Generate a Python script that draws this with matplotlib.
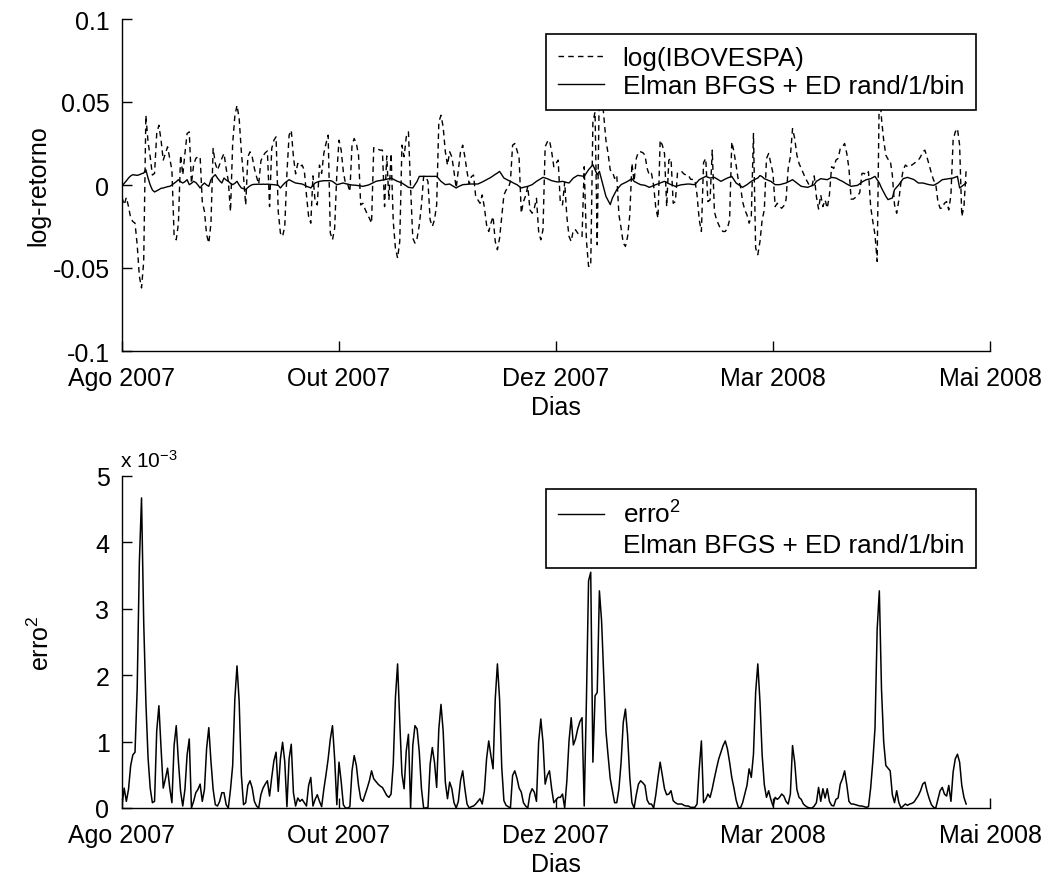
import numpy as np
import matplotlib
matplotlib.use('Agg')
import matplotlib.pyplot as plt
from matplotlib.lines import Line2D

plt.rcParams['font.family'] = ['Liberation Sans', 'DejaVu Sans']
plt.rcParams['mathtext.fontset'] = 'custom'
plt.rcParams['mathtext.rm'] = 'Liberation Sans'
plt.rcParams['mathtext.it'] = 'Liberation Sans:italic'

# ---------------- data ----------------
month_ticks = [0, 100, 200, 300, 400]
month_labels = ['Ago 2007', 'Out 2007', 'Dez 2007', 'Mar 2008', 'Mai 2008']

# observed log-return of IBOVESPA (in %)
ibov_pct = [
    -0.75, -1.2, -0.75, -1.3, -2.0, -2.2, -2.3, -3.6, -5.5, -6.2,
    -4.6, 4.2, 2.6, 1.7, 0.6, 0.7, 3.1, 3.6, 2.7, 1.5,
    1.9, 2.3, 1.6, 0.9, -3.0, -3.3, -2.3, 1.8, 0.6, 1.9,
    3.1, 3.2, 0.1, 1.2, 1.6, 1.7, 1.7, -1.0, -1.6, -3.0,
    -3.5, -2.3, 2.2, 1.3, 0.9, 1.25, 1.6, 1.9, 1.0, 0.22,
    -1.6, 2.5, 4.15, 4.8, 4.0, 2.0, 0.5, -1.2, 1.7, 2.0,
    1.7, 1.0, 0.5, 0.05, 1.45, 1.75, 1.94, 2.05, -1.3, 2.2,
    2.7, 2.9, -1.6, -2.9, -3.1, -2.5, 0.7, 3.0, 3.3, 1.7,
    0.67, 1.3, 1.1, 1.2, 0.9, -0.6, -1.9, -2.3, 0.55, -1.0,
    -1.2, 1.2, 0.7, 1.9, 2.5, 3.0, -2.9, -3.3, -2.6, 0.7,
    2.7, 2.1, 0.8, 0.08, 0.05, -0.4, 2.4, 2.8, 2.5, 1.8,
    -1.2, -1.1, -1.45, -1.75, -2.0, -2.3, 2.25, 2.2, 2.15, 2.1,
    2.1, -1.3, 1.75, -0.9, 1.9, -2.2, -3.8, -4.4, -3.4, 2.4,
    1.7, 2.9, 3.2, -0.16, -3.2, -3.5, -3.2, -2.4, -1.2, 0.52,
    0.52, 0.2, -2.1, -2.5, -2.1, -1.2, 3.8, 4.2, 3.5, 2.0,
    1.2, 2.0, 1.7, 0.8, -0.18, 0.9, 2.0, 2.4, 1.7, 0.8,
    0.06, 0.5, 0.6, -0.7, -0.9, -1.1, -0.6, -1.35, -2.4, -2.8,
    -2.3, -1.9, -3.4, -3.9, -3.2, -1.9, -0.6, -0.3, -0.2, 0.22,
    2.4, 2.5, 2.1, 1.6, -1.7, -1.0, -0.65, -0.08, -1.5, -1.7,
    -1.4, -0.8, -2.8, -3.3, -2.7, 2.3, 2.6, 2.7, 2.0, 1.1,
    1.3, 1.5, -1.1, -1.2, 0.18, -1.9, -3.1, -3.4, -2.7, -2.7,
    -2.9, -3.0, -3.1, 1.1, -3.3, -4.9, -4.9, 3.8, 4.4, -3.6,
    6.3, 5.6, 4.2, 2.7, 1.9, 0.9, 0.8, 0.4, 0.6, -1.8,
    -2.6, -3.5, -3.7, -3.1, -1.8, 1.3, 0.22, 1.6, 2.0, 2.0,
    1.95, 1.8, 1.0, 0.6, 0.7, -0.03, -1.4, -2.0, 2.7, 2.4,
    1.9, -1.3, 1.5, 1.6, -1.1, -1.0, 0.75, 0.8, 0.8, 0.66,
    0.6, 0.6, 0.35, 0.33, 0.3, -0.6, -2.1, -2.8, 1.35, 1.6,
    -1.0, -0.9, 2.1, -1.6, -2.1, -2.4, -2.7, -2.8, -2.8, -2.6,
    -2.1, 2.6, 2.0, 1.2, 0.3, -0.06, -1.0, -1.5, -1.8, -2.3,
    -1.9, 3.1, -3.8, -4.2, -3.4, -2.1, -1.5, 1.6, 1.9, 1.3,
    0.7, -1.3, -1.1, -1.3, -1.4, -1.25, -0.9, 1.0, 1.7, 3.4,
    2.8, 1.8, 1.3, 1.0, 0.7, 0.4, 0.15, -0.09, -0.04, 0.55,
    -0.7, -1.45, -0.6, -1.3, -0.9, -1.4, -0.6, 1.1, 1.0, 1.5,
    1.6, 2.2, 2.3, 2.5, 1.9, 1.0, -0.85, -0.85, -0.75, -0.65,
    -0.45, 0.7, 0.7, 0.6, 0.8, -1.3, -2.2, -3.0, -4.6, 5.8,
    4.0, 2.7, 1.8, 1.55, 1.5, 0.6, -1.2, -1.7, -0.9, 0.2,
    0.9, 1.2, 1.1, 1.2, 1.2, 1.3, 1.4, 1.5, 1.7, 2.0,
    2.1, 1.65, 1.2, 0.7, 0.3, 0.05, -1.0, -1.4, -1.4, -1.1,
    -1.0, -1.5, -0.6, 2.7, 3.2, 3.4, 2.4, -1.9, -1.3, 0.9,
]

# Elman BFGS + ED rand/1/bin prediction (in %)
elman_pct = [
    -0.04, 0.1, 0.25, 0.42, 0.55, 0.62, 0.6, 0.58, 0.62, 0.68,
    0.72, 0.92, 0.42, 0.0, -0.3, -0.42, -0.35, -0.28, -0.2, -0.18,
    -0.14, -0.1, -0.08, 0.0, 0.1, 0.2, 0.32, 0.2, 0.12, 0.2,
    0.32, 0.02, 0.1, 0.22, 0.15, 0.0, -0.18, 0.0, 0.12, 0.0,
    -0.08, 0.32, 0.5, 0.62, 0.42, 0.25, 0.12, 0.42, 0.3, 0.22,
    0.1, 0.02, 0.1, 0.22, 0.0, -0.18, -0.22, -0.28, -0.15, -0.05,
    0.02, 0.04, 0.04, 0.05, 0.04, 0.05, 0.04, 0.05, 0.04, 0.03,
    0.02, 0.0, -0.02, -0.18, -0.02, 0.12, 0.22, 0.32, 0.25, 0.18,
    0.12, 0.1, 0.08, 0.06, 0.0, -0.08, -0.12, -0.18, 0.0, 0.12,
    0.18, 0.22, 0.24, 0.26, 0.26, 0.26, 0.26, 0.22, 0.12, 0.02,
    0.05, 0.09, 0.12, 0.08, 0.05, 0.02, 0.0, -0.01, -0.02, -0.04,
    -0.06, -0.08, -0.05, -0.02, 0.02, 0.09, 0.15, 0.22, 0.25, 0.27,
    0.3, 0.32, 0.35, 0.38, 0.42, 0.35, 0.28, 0.22, 0.17, 0.12,
    0.03, -0.05, -0.14, -0.16, -0.18, 0.02, 0.22, 0.52, 0.52, 0.52,
    0.52, 0.52, 0.52, 0.52, 0.52, 0.52, 0.37, 0.22, 0.12, 0.02,
    0.04, 0.06, -0.02, -0.1, -0.18, -0.1, -0.04, 0.02, 0.03, 0.04,
    0.06, 0.06, 0.06, 0.06, 0.06, 0.12, 0.18, 0.25, 0.32, 0.39,
    0.46, 0.55, 0.64, 0.72, 0.82, 0.62, 0.42, 0.35, 0.28, 0.22,
    0.15, 0.08, 0.02, -0.08, -0.18, -0.14, -0.11, -0.08, -0.03, 0.02,
    0.12, 0.22, 0.3, 0.38, 0.46, 0.42, 0.38, 0.32, 0.26, 0.23,
    0.2, 0.18, 0.2, 0.22, 0.18, 0.15, 0.12, 0.27, 0.42, 0.5,
    0.58, 0.56, 0.54, 0.52, 0.72, 0.92, 1.07, 1.22, 0.92, 0.62,
    0.82, 0.32, -0.18, -0.68, -0.93, -1.18, -0.78, -0.53, -0.28, -0.13,
    0.02, 0.09, 0.15, 0.22, 0.3, 0.38, 0.22, 0.15, 0.08, 0.02,
    0.0, -0.02, -0.08, -0.14, -0.09, -0.03, 0.02, 0.07, 0.12, 0.17,
    0.22, 0.15, 0.08, 0.02, -0.03, -0.08, -0.05, -0.01, 0.02, 0.03,
    0.05, 0.06, 0.05, 0.03, 0.02, 0.17, 0.32, 0.39, 0.45, 0.52,
    0.47, 0.42, 0.44, 0.46, 0.38, 0.3, 0.22, 0.29, 0.36, 0.42,
    0.47, 0.52, 0.32, 0.12, 0.03, -0.06, -0.14, -0.06, 0.02, 0.12,
    0.22, 0.29, 0.36, 0.42, 0.57, 0.5, 0.38, 0.33, 0.27, 0.22,
    0.12, 0.02, 0.02, 0.02, 0.05, 0.09, 0.12, 0.19, 0.25, 0.32,
    0.22, 0.12, 0.02, -0.08, -0.1, -0.12, -0.14, -0.09, -0.04, 0.02,
    0.22, 0.3, 0.38, 0.36, 0.34, 0.32, 0.39, 0.46, 0.44, 0.42,
    0.35, 0.28, 0.22, 0.14, 0.06, -0.01, -0.08, -0.06, -0.04, -0.02,
    0.08, 0.18, 0.25, 0.32, 0.35, 0.38, 0.45, 0.52, 0.32, 0.12,
    -0.18, -0.43, -0.68, -0.88, -0.83, -0.78, -0.28, -0.13, 0.02, 0.2,
    0.38, 0.42, 0.46, 0.41, 0.37, 0.32, 0.22, 0.12, 0.12, 0.12,
    0.09, 0.05, 0.02, 0.0, -0.02, 0.05, 0.12, 0.22, 0.32, 0.34,
    0.36, 0.38, 0.4, 0.42, 0.47, 0.52, -0.18, -0.08, 0.02, 0.12,
]

# squared error (in units of 1e-3)
erro2_e3 = [
    0.05, 0.3, 0.1, 0.28, 0.64, 0.8, 0.84, 1.8, 3.7, 4.67,
    2.8, 1.6, 0.76, 0.3, 0.08, 0.1, 1.16, 1.54, 0.9, 0.3,
    0.44, 0.6, 0.3, 0.08, 0.94, 1.24, 0.7, 0.25, 0.03, 0.28,
    0.8, 1.04, 0.0, 0.1, 0.23, 0.28, 0.36, 0.1, 0.28, 0.9,
    1.21, 0.7, 0.28, 0.05, 0.03, 0.1, 0.23, 0.23, 0.05, 0.0,
    0.28, 0.64, 1.64, 2.14, 1.6, 0.5, 0.05, 0.08, 0.34, 0.41,
    0.3, 0.1, 0.03, 0.0, 0.2, 0.3, 0.36, 0.41, 0.18, 0.46,
    0.71, 0.84, 0.25, 0.74, 0.99, 0.7, 0.02, 0.74, 0.96, 0.23,
    0.03, 0.15, 0.1, 0.13, 0.08, 0.03, 0.34, 0.46, 0.03, 0.13,
    0.2, 0.1, 0.02, 0.28, 0.5, 0.74, 1.04, 1.24, 0.74, 0.05,
    0.69, 0.4, 0.05, 0.0, 0.0, 0.02, 0.56, 0.79, 0.64, 0.34,
    0.14, 0.1, 0.2, 0.3, 0.41, 0.56, 0.44, 0.4, 0.36, 0.33,
    0.31, 0.25, 0.19, 0.16, 0.21, 0.66, 1.66, 2.17, 1.3, 0.51,
    0.29, 0.86, 1.11, 0.0, 0.94, 1.24, 1.19, 0.84, 0.29, 0.0,
    0.0, 0.01, 0.66, 0.91, 0.69, 0.31, 1.19, 1.56, 1.16, 0.39,
    0.14, 0.39, 0.29, 0.08, 0.0, 0.1, 0.41, 0.56, 0.29, 0.06,
    0.0, 0.02, 0.03, 0.06, 0.1, 0.14, 0.06, 0.26, 0.74, 1.01,
    0.79, 0.59, 1.64, 2.17, 1.64, 0.61, 0.11, 0.04, 0.02, 0.0,
    0.49, 0.56, 0.45, 0.3, 0.24, 0.08, 0.03, 0.0, 0.21, 0.29,
    0.24, 0.1, 0.99, 1.34, 0.99, 0.36, 0.49, 0.56, 0.29, 0.08,
    0.12, 0.16, 0.16, 0.21, 0.0, 0.41, 1.01, 1.36, 0.95, 1.04,
    1.19, 1.3, 1.36, 0.03, 1.59, 3.42, 3.55, 0.69, 1.69, 1.74,
    3.27, 2.82, 1.99, 1.16, 0.79, 0.44, 0.26, 0.08, 0.08, 0.29,
    0.69, 1.29, 1.49, 1.09, 0.46, 0.08, 0.0, 0.2, 0.36, 0.41,
    0.38, 0.34, 0.12, 0.06, 0.06, 0.0, 0.2, 0.46, 0.69, 0.49,
    0.29, 0.2, 0.21, 0.26, 0.11, 0.08, 0.06, 0.06, 0.06, 0.04,
    0.03, 0.03, 0.01, 0.01, 0.01, 0.06, 0.59, 1.01, 0.08, 0.13,
    0.21, 0.16, 0.29, 0.45, 0.6, 0.74, 0.84, 0.94, 1.01, 0.89,
    0.69, 0.46, 0.3, 0.12, 0.01, 0.0, 0.08, 0.21, 0.34, 0.59,
    0.46, 0.81, 1.74, 2.17, 1.6, 0.8, 0.35, 0.16, 0.26, 0.13,
    0.03, 0.16, 0.13, 0.16, 0.21, 0.18, 0.1, 0.06, 0.21, 0.94,
    0.69, 0.28, 0.16, 0.13, 0.06, 0.03, 0.01, 0.0, 0.0, 0.03,
    0.08, 0.31, 0.1, 0.29, 0.15, 0.29, 0.1, 0.04, 0.03, 0.13,
    0.15, 0.36, 0.44, 0.56, 0.35, 0.1, 0.06, 0.06, 0.05, 0.04,
    0.03, 0.03, 0.02, 0.01, 0.02, 0.3, 0.7, 1.2, 2.69, 3.27,
    1.79, 1.0, 0.64, 0.6, 0.56, 0.2, 0.08, 0.26, 0.08, 0.0,
    0.03, 0.06, 0.04, 0.06, 0.07, 0.09, 0.14, 0.19, 0.26, 0.36,
    0.39, 0.25, 0.14, 0.05, 0.01, 0.0, 0.13, 0.26, 0.31, 0.21,
    0.18, 0.34, 0.1, 0.54, 0.74, 0.81, 0.69, 0.34, 0.16, 0.06,
]

top_yticks = [-0.1, -0.05, 0, 0.05, 0.1]
top_ylabels = ['-0.1', '-0.05', '0', '0.05', '0.1']
bot_yticks = [0, 1, 2, 3, 4, 5]
bot_ylabels = ['0', '1', '2', '3', '4', '5']

# ---------------- figure ----------------
FS = 18
LFS = 18.8
fig = plt.figure(figsize=(10.45, 8.78), dpi=100)
W, H = 1045.0, 878.0

def axes_px(x0, y0, x1, y1):
    return fig.add_axes([x0 / W, 1 - y1 / H, (x1 - x0) / W, (y1 - y0) / H])

ax1 = axes_px(122, 20, 990, 352)
ax2 = axes_px(122, 477, 990, 809)

days = np.arange(len(ibov_pct))

ax1.plot(days, np.array(ibov_pct) / 100.0, color='black', lw=1.0,
         linestyle=(0, (4, 3)), label='log(IBOVESPA)')
ax1.plot(days, np.array(elman_pct) / 100.0, color='black', lw=1.0,
         linestyle='-', label='Elman BFGS + ED rand/1/bin')
ax1.set_ylim(-0.1, 0.1)
ax1.set_yticks(top_yticks)
ax1.set_yticklabels(top_ylabels)
ax1.set_ylabel('log-retorno', fontsize=FS)
ax1.yaxis.set_label_coords(-0.083, 0.5)

ax2.plot(days, np.array(erro2_e3) * 1e-3, color='black', lw=1.1)
ax2.set_ylim(0, 5e-3)
ax2.set_yticks([v * 1e-3 for v in bot_yticks])
ax2.set_yticklabels(bot_ylabels)
ax2.set_ylabel('erro$^2$', fontsize=FS)
ax2.yaxis.set_label_coords(-0.078, 0.5)
fig.text(120 / W, 1 - 468 / H, 'x 10$^{-3}$', fontsize=15, ha='left', va='baseline')

for ax in (ax1, ax2):
    ax.set_xlim(0, 400)
    ax.set_xticks(month_ticks)
    ax.set_xticklabels(month_labels)
    ax.set_xlabel('Dias', fontsize=FS, labelpad=4)
    for s in ('top', 'right'):
        ax.spines[s].set_visible(False)
    for s in ('left', 'bottom'):
        ax.spines[s].set_linewidth(1.0)
    ax.tick_params(direction='in', length=7, width=1.0, labelsize=FS)
    ax.tick_params(axis='y', pad=9)
    ax.tick_params(axis='x', pad=10.5)

leg_kw = dict(loc='upper right', bbox_transform=fig.transFigure, borderaxespad=0,
              fontsize=LFS, frameon=True, fancybox=False, framealpha=1,
              edgecolor='black', handlelength=1.76, handletextpad=0.73,
              labelspacing=0.18, borderpad=0.45)
leg1 = ax1.legend(bbox_to_anchor=(976 / W, 1 - 35 / H), **leg_kw)
leg1.get_frame().set_linewidth(1.2)

h_err = Line2D([], [], color='black', lw=1.0)
h_none = Line2D([], [], linestyle='none')
leg2 = ax2.legend([h_err, h_none], ['erro$^2$', 'Elman BFGS + ED rand/1/bin'],
                  bbox_to_anchor=(976 / W, 1 - 490 / H), **leg_kw)
leg2.get_frame().set_linewidth(1.2)

fig.savefig('out.png', dpi=100, facecolor='white')
